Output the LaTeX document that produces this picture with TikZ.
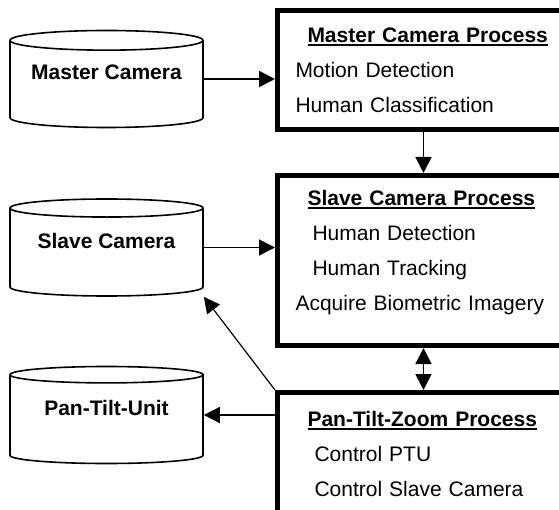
\documentclass[tikz,border=0pt]{standalone}
\usepackage{fontspec}
\setmainfont{Liberation Sans}
\usetikzlibrary{shapes.geometric, arrows.meta}

\newcommand{\procname}[1]{\setbox0\hbox{\textbf{#1}}\rlap{\rule[-3.5pt]{\wd0}{1.8pt}}\box0}

\begin{document}
\begin{tikzpicture}[x=1pt, y=-1pt,
    cam/.style={cylinder, shape border rotate=90, aspect=0.125, draw, line width=1.6pt,
        minimum width=193pt, minimum height=97pt, anchor=shape center, text depth=26pt,
        font=\fontsize{21}{25}\selectfont\bfseries},
    proc/.style={draw, line width=5pt, inner xsep=0pt, text width=292pt, align=left,
        anchor=north west, font=\fontsize{21}{35}\selectfont},
    arr/.style={line width=1.6pt, -{Triangle[length=16pt,width=16pt]}},
    dblarr/.style={line width=1.6pt, {Triangle[length=16pt,width=16pt]}-{Triangle[length=16pt,width=16pt]}}]
    \useasboundingbox (0,0) rectangle (559,510);
    \clip (0,0) rectangle (559,510);

    \node[cam] (mc) at (106.5,79) {Master Camera};
    \node[cam] (sc) at (106.5,247.5) {Slave Camera};
    \node[cam] (ptu) at (106.5,415) {Pan-Tilt-Unit};

    \node[proc, minimum height=119pt] (mcp) at (275,8) {\hspace*{30pt}\procname{Master Camera Process}\\
        \hspace*{18pt}Motion Detection\\
        \hspace*{18pt}Human Classification};
    \node[proc, minimum height=170pt, text depth=126pt] (scp) at (275,173) {\hspace*{30pt}\procname{Slave Camera Process}\\
        \hspace*{35pt}Human Detection\\
        \hspace*{35pt}Human Tracking\\
        \hspace*{18pt}Acquire Biometric Imagery};
    \node[proc, minimum height=122pt] (ptz) at (275,390) {\hspace*{30pt}\procname{Pan-Tilt-Zoom Process}\\
        \hspace*{37pt}Control PTU\\
        \hspace*{37pt}Control Slave Camera};

    \draw[arr] (mc.shape center -| mc.east) -- (mc.shape center -| mcp.west);
    \draw[arr] (mcp.south) -- (scp.north);
    \draw[arr] (sc.shape center -| sc.east) -- (sc.shape center -| scp.west);
    \draw[dblarr] (scp.south) -- (ptz.north);
    \draw[arr] (ptu.shape center -| ptz.west) -- (ptu.shape center -| ptu.east);
    \draw[arr, line width=1.2pt] (ptz.north west) -- (sc.east |- sc.south);
\end{tikzpicture}
\end{document}
